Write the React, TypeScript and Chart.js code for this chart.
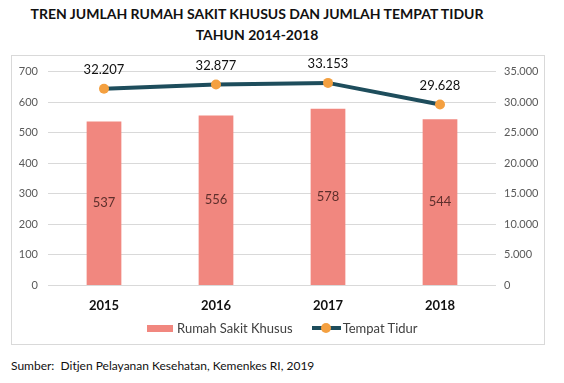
import React, { useEffect, useRef } from "react";
import { Chart, registerables } from "chart.js";

Chart.register(...registerables);

const categories = ["2015", "2016", "2017", "2018"];
const rumahSakitKhusus = [537, 556, 578, 544];
const tempatTidur = [32207, 32877, 33153, 29628];
const leftTicks = [0, 100, 200, 300, 400, 500, 600, 700];
const rightTicks = [0, 5000, 10000, 15000, 20000, 25000, 30000, 35000];

const FONT = "Lato, 'Open Sans', sans-serif";
const BAR_COLOR = "#F1877F";
const LINE_COLOR = "#1E4D5C";
const POINT_COLOR = "#F4A040";

function fmt(n: number): string {
  return String(Math.round(n)).replace(/\B(?=(\d{3})+(?!\d))/g, ".");
}

const labelPlugin = {
  id: "valueLabels",
  afterDatasetsDraw(chart: any) {
    const ctx = chart.ctx;
    ctx.save();
    ctx.textAlign = "center";
    ctx.textBaseline = "middle";
    const barMeta = chart.getDatasetMeta(0);
    ctx.font = `13px ${FONT}`;
    ctx.fillStyle = "#5E2F2C";
    barMeta.data.forEach((el: any, i: number) => {
      const y = (el.y + el.base) / 2;
      ctx.fillText(String(rumahSakitKhusus[i]), el.x, y);
    });
    const lineMeta = chart.getDatasetMeta(1);
    ctx.fillStyle = "#111111";
    ctx.font = `13px ${FONT}`;
    lineMeta.data.forEach((el: any, i: number) => {
      ctx.fillText(fmt(tempatTidur[i]), el.x, el.y - 19);
    });
    ctx.restore();
  },
};

export default function App() {
  const canvasRef = useRef<HTMLCanvasElement>(null);

  useEffect(() => {
    if (!canvasRef.current) return;
    const chart = new Chart(canvasRef.current, {
      type: "bar",
      data: {
        labels: categories,
        datasets: [
          {
            type: "bar",
            label: "Rumah Sakit Khusus",
            data: rumahSakitKhusus,
            backgroundColor: BAR_COLOR,
            yAxisID: "y",
            categoryPercentage: 1,
            barPercentage: 0.31,
            order: 1,
          },
          {
            type: "line",
            label: "Tempat Tidur",
            data: tempatTidur,
            borderColor: LINE_COLOR,
            borderWidth: 4,
            pointRadius: 5,
            pointBackgroundColor: POINT_COLOR,
            pointBorderColor: POINT_COLOR,
            pointBorderWidth: 0,
            yAxisID: "y1",
            order: 0,
            tension: 0,
          } as any,
        ],
      },
      options: {
        animation: false,
        responsive: false,
        maintainAspectRatio: false,
        layout: { padding: { top: 15, bottom: 0, left: 0, right: 0 } },
        plugins: {
          legend: { display: false },
          tooltip: { enabled: false },
        },
        scales: {
          x: {
            grid: { display: false, drawTicks: false },
            border: { display: false },
            ticks: {
              color: "#111111",
              font: { family: FONT, size: 13, weight: "bold" },
              padding: 13,
            },
            afterFit(scale: any) {
              scale.height = 59.6;
            },
          },
          y: {
            position: "left",
            min: 0,
            max: 700,
            afterBuildTicks(scale: any) {
              scale.ticks = leftTicks.map((v) => ({ value: v }));
            },
            grid: { color: "#D9D9D9", drawTicks: false, lineWidth: 1 },
            border: { display: false },
            ticks: {
              color: "#595959",
              font: { family: FONT, size: 11 },
              padding: 10,
              callback: (v: any) => String(v),
            },
            afterFit(scale: any) {
              scale.width = 37;
            },
          },
          y1: {
            position: "right",
            min: 0,
            max: 35000,
            afterBuildTicks(scale: any) {
              scale.ticks = rightTicks.map((v) => ({ value: v }));
            },
            grid: { display: false, drawTicks: false },
            border: { display: false },
            ticks: {
              color: "#595959",
              font: { family: FONT, size: 11 },
              padding: 8,
              callback: (v: any) => fmt(Number(v)),
            },
            afterFit(scale: any) {
              scale.width = 49;
            },
          },
        },
      } as any,
      plugins: [labelPlugin],
    });
    return () => chart.destroy();
  }, []);

  return (
    <div
      style={{
        position: "fixed",
        left: 0,
        top: 0,
        width: 564,
        height: 383,
        background: "#fff",
        fontFamily: FONT,
      }}
    >
      <div
        style={{
          position: "absolute",
          left: 0,
          width: 514,
          top: 3,
          textAlign: "center",
          fontWeight: "bold",
          fontSize: 14,
          lineHeight: "21px",
          color: "#111",
        }}
      >
        TREN JUMLAH RUMAH SAKIT KHUSUS DAN JUMLAH TEMPAT TIDUR
        <br />
        TAHUN 2014-2018
      </div>
      <div
        style={{
          position: "absolute",
          left: 11,
          top: 55,
          width: 534,
          height: 290,
          boxSizing: "border-box",
          border: "1px solid #D9D9D9",
        }}
      />
      <canvas
        ref={canvasRef}
        width={534}
        height={290}
        style={{ position: "absolute", left: 11, top: 55, width: 534, height: 290 }}
      />
      <div
        style={{
          position: "absolute",
          top: 320,
          left: 147,
          height: 16,
          display: "flex",
          alignItems: "center",
          fontSize: 13,
          color: "#404040",
        }}
      >
        <span style={{ display: "inline-block", width: 26, height: 7, background: BAR_COLOR }} />
        <span style={{ marginLeft: 4 }}>Rumah Sakit Khusus</span>
        <span style={{ position: "relative", display: "inline-block", width: 29, height: 10, marginLeft: 19 }}>
          <span
            style={{
              position: "absolute",
              left: 0,
              top: 3,
              width: 29,
              height: 4,
              background: LINE_COLOR,
            }}
          />
          <span
            style={{
              position: "absolute",
              left: 9.5,
              top: 0,
              width: 10,
              height: 10,
              borderRadius: 5,
              background: POINT_COLOR,
            }}
          />
        </span>
        <span style={{ marginLeft: 2 }}>Tempat Tidur</span>
      </div>
      <div
        style={{
          position: "absolute",
          left: 11,
          top: 358,
          fontSize: 12,
          color: "#111",
          whiteSpace: "pre",
        }}
      >
        {"Sumber:  Ditjen Pelayanan Kesehatan, Kemenkes RI, 2019"}
      </div>
    </div>
  );
}
